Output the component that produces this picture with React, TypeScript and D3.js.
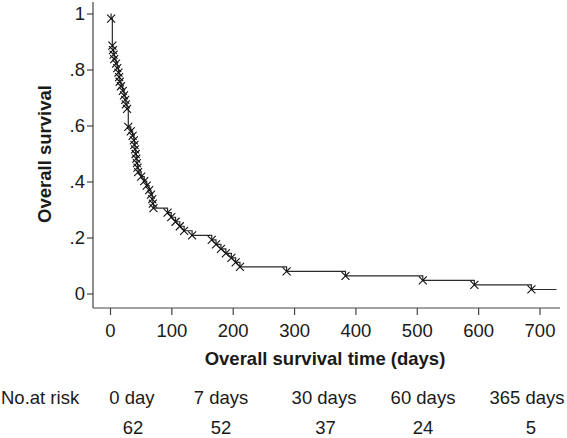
import React from "react";
import * as d3 from "d3";

// ---- data ----
const nPatients = 62;
const deathDays = [
  1, 3, 3, 3, 3, 3, 3, 4, 5, 6,
  9, 11, 13, 14, 15, 17, 20, 22, 24, 25, 27,
  29, 29, 29, 29,
  33, 36, 38, 39, 40, 41, 42, 43, 44, 45, 50, 55, 59,
  63, 66, 68, 69, 70,
  93, 99, 106, 113, 120, 133,
  165, 172, 180, 188, 197, 204, 211,
  287, 383, 509, 593, 686,
];
const lastFollowUp = 727;
const xTicks = [0, 100, 200, 300, 400, 500, 600, 700];
const yTicks = [0, 0.2, 0.4, 0.6, 0.8, 1];
const riskLabels = ["0 day", "7 days", "30 days", "60 days", "365 days"];
const riskCounts = [62, 52, 37, 24, 5];

// ---- layout ----
const W = 567;
const H = 438;
const riskLabelX = [132, 221, 324, 423, 527];
const riskCountX = [133, 221, 325.5, 423, 531];
const FONT = "'Liberation Sans', Arial, Helvetica, sans-serif";

function kmPoints() {
  const counts = d3.rollups(deathDays, (v) => v.length, (d) => d).sort((a, b) => a[0] - b[0]);
  let atRisk = nPatients;
  let s = 1;
  const pts: { t: number; s: number }[] = [];
  for (const [t, d] of counts) {
    s = s * (1 - d / atRisk);
    atRisk -= d;
    pts.push({ t, s });
  }
  return pts;
}

export default function App() {
  const x = d3.scaleLinear().domain([0, 700]).range([110.5, 540]);
  const y = d3.scaleLinear().domain([0, 1]).range([294, 14]);
  const events = kmPoints();
  const stepPts = [{ t: 0, s: 1 }, ...events, { t: lastFollowUp, s: events[events.length - 1].s }];
  const line = d3
    .line<{ t: number; s: number }>()
    .x((d) => x(d.t))
    .y((d) => y(d.s))
    .curve(d3.curveStepAfter);

  const fmtY = (v: number) => (v === 0 ? "0" : v === 1 ? "1" : d3.format(".1f")(v).replace(/^0/, ""));
  const axisColor = "#444";
  const textColor = "#1a1a1a";
  const yAxisX = 93;
  const xAxisY = 308;

  return (
    <svg
      width={W}
      height={H}
      style={{ position: "absolute", left: 0, top: 0, background: "#fff" }}
      fontFamily={FONT}
    >
      <rect x={0} y={0} width={W} height={H} fill="#fff" />
      {/* axes */}
      <line x1={yAxisX} x2={yAxisX} y1={2} y2={xAxisY} stroke={axisColor} strokeWidth={1.2} />
      <line x1={yAxisX} x2={560} y1={xAxisY} y2={xAxisY} stroke={axisColor} strokeWidth={1.2} />
      {yTicks.map((v) => (
        <g key={"y" + v}>
          <line x1={yAxisX - 6} x2={yAxisX} y1={y(v)} y2={y(v)} stroke={axisColor} strokeWidth={1.2} />
          <text x={85} y={y(v)} dy="0.35em" textAnchor="end" fontSize={18.5} fill={textColor}>
            {fmtY(v)}
          </text>
        </g>
      ))}
      {xTicks.map((v) => (
        <g key={"x" + v}>
          <line x1={x(v)} x2={x(v)} y1={xAxisY} y2={xAxisY + 7} stroke={axisColor} strokeWidth={1.2} />
          <text x={x(v)} y={337} textAnchor="middle" fontSize={18.5} fill={textColor}>
            {v}
          </text>
        </g>
      ))}
      <text
        transform={`translate(50.5,154) rotate(-90)`}
        textAnchor="middle"
        fontSize={18.5}
        fontWeight="bold"
        fill={textColor}
      >
        Overall survival
      </text>
      <text x={325} y={365} textAnchor="middle" fontSize={18.5} fontWeight="bold" fill={textColor}>
        Overall survival time (days)
      </text>

      {/* KM curve */}
      <path d={line(stepPts) || ""} fill="none" stroke="#2a2a2a" strokeWidth={1.2} />
      {events.map((e, i) => (
        <path
          key={"c" + i}
          transform={`translate(${x(e.t)},${y(e.s)})`}
          d="M-4,-4L4,4M-4,4L4,-4"
          stroke="#111"
          strokeWidth={1.1}
          fill="none"
        />
      ))}

      {/* number at risk */}
      <text x={1} y={404} fontSize={18.5} fill={textColor}>
        No.at risk
      </text>
      {riskLabels.map((l, i) => (
        <text key={"rl" + i} x={riskLabelX[i]} y={404} textAnchor="middle" fontSize={18.5} fill={textColor}>
          {l}
        </text>
      ))}
      {riskCounts.map((c, i) => (
        <text key={"rc" + i} x={riskCountX[i]} y={433.5} textAnchor="middle" fontSize={18.5} fill={textColor}>
          {c}
        </text>
      ))}
    </svg>
  );
}
